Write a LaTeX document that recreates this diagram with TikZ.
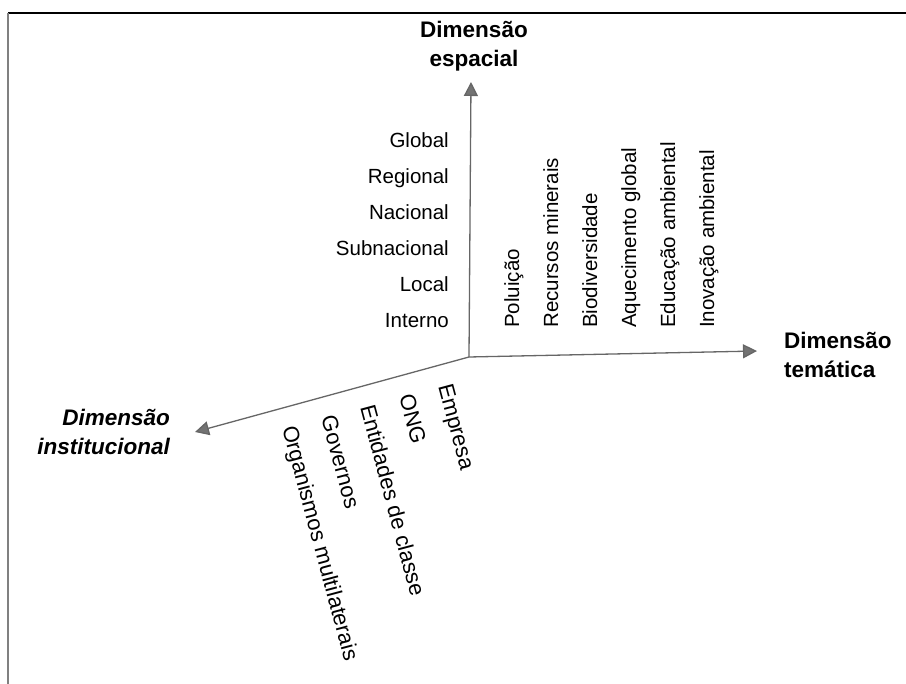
\documentclass[tikz,border=0pt]{standalone}
\usepackage{fontspec}
\setmainfont{Liberation Sans}
\usetikzlibrary{arrows.meta}

\begin{document}
\begin{tikzpicture}[x=1pt,y=-1pt,
  axis/.style={draw=black!60,line width=1.3pt,-{Triangle[length=14pt,width=14pt,fill=black!55]}},
  item/.style={font=\fontsize{20.5}{24}\selectfont,inner sep=0pt},
  title/.style={font=\fontsize{22.5}{29}\selectfont\bfseries,inner sep=0pt}]
\useasboundingbox (0,0) rectangle (906,684);
\draw[line width=1.2pt] (8,13) -- (906,13);
\draw[black!50,line width=1.2pt] (8,13) -- (8,684);

% axes
\coordinate (O) at (469,357);
\coordinate (tipE) at (471,82);
\coordinate (tipT) at (757,351);
\coordinate (tipI) at (195,432);
\draw[axis] (O) -- (tipE);
\draw[axis] (O) -- (tipT);
\draw[axis] (O) -- (tipI);

% axis titles
\node[title,align=center,anchor=north] (dimE) at (474,21.5) {Dimensão\\espacial};
\node[title,align=left,anchor=north west] (dimT) at (784,331.5) {Dimensão\\temática};
\node[title,align=right,anchor=north east,font=\fontsize{22.5}{29}\selectfont\bfseries\itshape] (dimI) at (170,408.5) {Dimensão\\institucional};

% spatial levels
\foreach \lab [count=\i] in {Interno,Local,Subnacional,Nacional,Regional,Global}
  \node[item,anchor=base east] (esp\i) at (449,{328-36*(\i-1)}) {\lab};

% themes
\foreach \lab [count=\i] in {Poluição,Recursos minerais,Biodiversidade,Aquecimento global,Educação ambiental,Inovação ambiental}
  \node[item,rotate=90,anchor=base west] (tem\i) at ({519+39*(\i-1)},328) {\lab};

% institutions
\foreach \lab [count=\i] in {Empresa,ONG,Entidades de classe,Governos,Organismos multilaterais}
  \node[item,font=\fontsize{22}{26}\selectfont,rotate=-75,anchor=base west] (inst\i) at ({438-39*(\i-1)},{386+10.5*(\i-1)}) {\lab};
\end{tikzpicture}
\end{document}
